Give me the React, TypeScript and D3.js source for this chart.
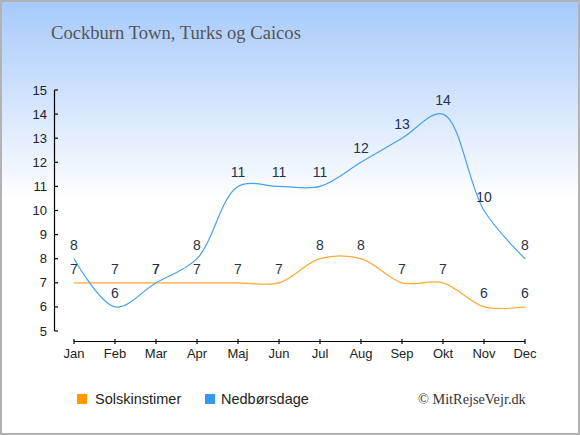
import React from "react";
import * as d3 from "d3";

const months = ["Jan", "Feb", "Mar", "Apr", "Maj", "Jun", "Jul", "Aug", "Sep", "Okt", "Nov", "Dec"];
const sunshine = [7, 7, 7, 7, 7, 7, 8, 8, 7, 7, 6, 6];
const rainDays = [8, 6, 7, 8, 11, 11, 11, 12, 13, 14, 10, 8];
const yTicks = [5, 6, 7, 8, 9, 10, 11, 12, 13, 14, 15];
const title = "Cockburn Town, Turks og Caicos";
const seriesNames = ["Solskinstimer", "Nedbørsdage"];
const credit = "© MitRejseVejr.dk";

const W = 580;
const H = 435;

export default function App() {
  const x = d3.scalePoint<string>().domain(months).range([74, 525]);
  const y = d3.scaleLinear().domain([5, 15]).range([331, 90]);
  const line = d3
    .line<number>()
    .x((_, i) => x(months[i]) as number)
    .y((d) => y(d))
    .curve(d3.curveCatmullRom.alpha(0.5));

  const sans = "'Liberation Sans', Arial, sans-serif";
  const serif = "'Liberation Serif', 'Times New Roman', serif";
  const labelColor = "#26324d";

  const series = [
    { name: seriesNames[0], data: sunshine, line: "#ffaa33", box: "#ff9900" },
    { name: seriesNames[1], data: rainDays, line: "#48a0ee", box: "#3399ee" },
  ];

  return (
    <svg
      width={W}
      height={H}
      style={{ position: "fixed", left: 0, top: 0, display: "block" }}
    >
      <defs>
        <linearGradient id="bg" x1="0" y1="0" x2="0" y2="1">
          <stop offset="0" stopColor="#a6c9fb" />
          <stop offset={200 / H} stopColor="#ffffff" />
          <stop offset="1" stopColor="#ffffff" />
        </linearGradient>
      </defs>
      <rect x={0} y={0} width={W} height={H} fill="url(#bg)" />
      <rect x={1} y={1} width={W - 2} height={H - 2} fill="none" stroke="#b2b2b2" strokeWidth={2} />

      <text x={51} y={38.5} fontFamily={serif} fontSize={18.6} fill="#555555">
        {title}
      </text>

      {/* Y axis */}
      <line x1={54.5} x2={54.5} y1={y(15)} y2={y(5)} stroke="#000" strokeWidth={1.2} />
      {yTicks.map((t) => (
        <g key={t}>
          <line x1={54.5} x2={58} y1={y(t)} y2={y(t)} stroke="#000" strokeWidth={1.2} />
          <text x={47} y={y(t)} dy="0.35em" textAnchor="end" fontFamily={sans} fontSize={13} fill="#222">
            {t}
          </text>
        </g>
      ))}

      {/* X axis */}
      <line x1={x(months[0])} x2={x(months[11])} y1={341.5} y2={341.5} stroke="#000" strokeWidth={1.2} />
      {months.map((m) => (
        <g key={m}>
          <line x1={x(m)} x2={x(m)} y1={339} y2={344} stroke="#000" strokeWidth={1.2} />
          <text x={x(m)} y={358} textAnchor="middle" fontFamily={sans} fontSize={13} fill="#222">
            {m}
          </text>
        </g>
      ))}

      {series.map((s) => (
        <path key={s.name} d={line(s.data) || ""} fill="none" stroke={s.line} strokeWidth={1.2} />
      ))}

      {series.map((s) =>
        s.data.map((v, i) => (
          <text
            key={s.name + i}
            x={x(months[i])}
            y={y(v) - 9}
            textAnchor="middle"
            fontFamily={sans}
            fontSize={14}
            fill={labelColor}
          >
            {v}
          </text>
        ))
      )}

      {/* Legend */}
      <rect x={77} y={394} width={10} height={10} fill={series[0].box} />
      <text x={95} y={404} fontFamily={sans} fontSize={14.5} fill="#222">
        {series[0].name}
      </text>
      <rect x={205} y={394} width={10} height={10} fill={series[1].box} />
      <text x={221} y={404} fontFamily={sans} fontSize={14.5} fill="#222">
        {series[1].name}
      </text>
      <text x={418} y={404} fontFamily={serif} fontSize={14.3} fill="#333">
        {credit}
      </text>
    </svg>
  );
}
